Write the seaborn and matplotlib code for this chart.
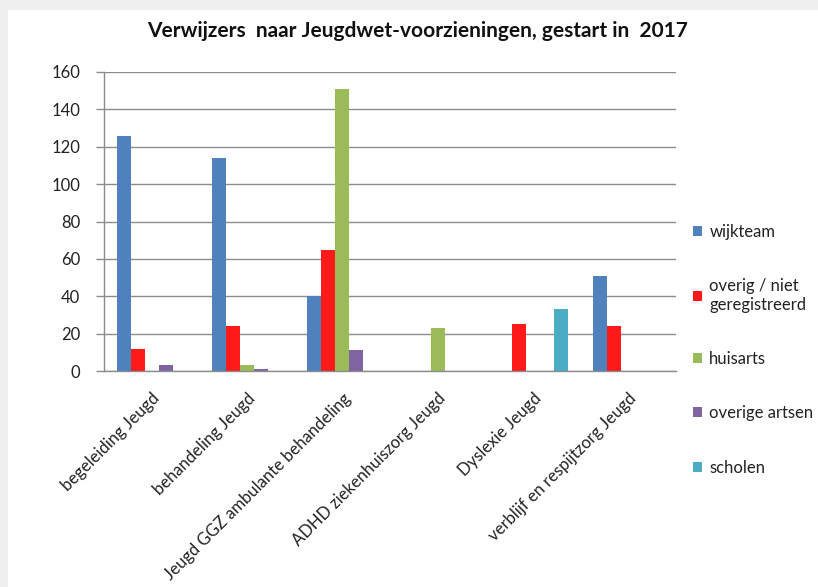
import numpy as np
import pandas as pd
import seaborn as sns
import matplotlib.pyplot as plt
from matplotlib.patches import Rectangle

categories = [
    "begeleiding Jeugd",
    "behandeling Jeugd",
    "Jeugd GGZ ambulante behandeling",
    "ADHD ziekenhuiszorg Jeugd",
    "Dyslexie Jeugd",
    "verblijf en respijtzorg Jeugd",
]
series = ["wijkteam", "overig / niet\ngeregistreerd", "huisarts", "overige artsen", "scholen"]

wijkteam = [126, 114, 40, 0, 0, 51]
overig = [12, 24, 65, 0, 25, 24]
huisarts = [0, 3, 151, 23, 0, 0]
overige_artsen = [3, 1, 11, 0, 0, 0]
scholen = [0, 0, 0, 0, 33, 0]

colors = ["#4F81BD", "#FF1A1A", "#9BBB59", "#8064A2", "#4BACC6"]

values = [wijkteam, overig, huisarts, overige_artsen, scholen]
df = pd.DataFrame(
    [
        {"categorie": c, "verwijzer": s, "aantal": v}
        for s, vals in zip(series, values)
        for c, v in zip(categories, vals)
    ]
)

sns.set_theme(style="white")
plt.rcParams["font.family"] = ["Lato", "DejaVu Sans"]

fig = plt.figure(figsize=(8.18, 5.87), dpi=100)
fig.patch.set_facecolor("#f0f0f0")
fig.patches.append(
    Rectangle((8 / 818, 0), 1, 1 - 10 / 587, transform=fig.transFigure,
              facecolor="white", edgecolor="none", zorder=-10)
)

ax = fig.add_axes([104 / 818, 1 - 371 / 587, (676 - 104) / 818, (371 - 72) / 587])
ax.set_facecolor("none")

sns.barplot(
    data=df, x="categorie", y="aantal", hue="verwijzer",
    order=categories, hue_order=series, palette=colors,
    width=0.735, ax=ax, legend=True, saturation=1, linewidth=0,
)

ax.set_xlim(-0.5, len(categories) - 0.5)
ax.set_ylim(0, 160)
ax.set_yticks(np.arange(0, 161, 20))
ax.yaxis.grid(True, color="#8c8c8c", linewidth=1)
ax.set_axisbelow(True)
ax.set_xlabel("")
ax.set_ylabel("")

for side in ["top", "right"]:
    ax.spines[side].set_visible(False)
for side in ["left", "bottom"]:
    ax.spines[side].set_color("#8c8c8c")
    ax.spines[side].set_linewidth(1)

# category boundaries carry the tick marks, labels sit at the centres
ax.set_xticks(np.arange(-0.5, len(categories), 1.0), minor=True)
ax.tick_params(axis="x", which="major", length=0, pad=14)
ax.tick_params(axis="x", which="minor", length=5, width=1, color="#8c8c8c", direction="out")
ax.tick_params(axis="y", length=6, width=1, color="#8c8c8c", direction="out",
               left=True, labelsize=12, labelcolor="#222222", pad=11)
ax.set_xticks(range(len(categories)))
ax.set_xticklabels(categories, rotation=45, ha="right", rotation_mode="anchor",
                   fontsize=12, color="#222222")

handles, labels = ax.get_legend_handles_labels()
ax.legend(
    handles, labels, loc="upper left", bbox_to_anchor=(582 / 572, 1 - 145 / 299),
    frameon=False, fontsize=12, labelspacing=2.3, handlelength=0.55,
    handleheight=0.55, handletextpad=0.45, borderaxespad=0,
    labelcolor="#222222",
)

fig.text(418 / 818, 1 - 31 / 587, "Verwijzers  naar Jeugdwet-voorzieningen, gestart in  2017",
         ha="center", va="center", fontsize=15, fontweight="bold", color="#111111")

fig.savefig("out.png", dpi=100, facecolor=fig.get_facecolor())
